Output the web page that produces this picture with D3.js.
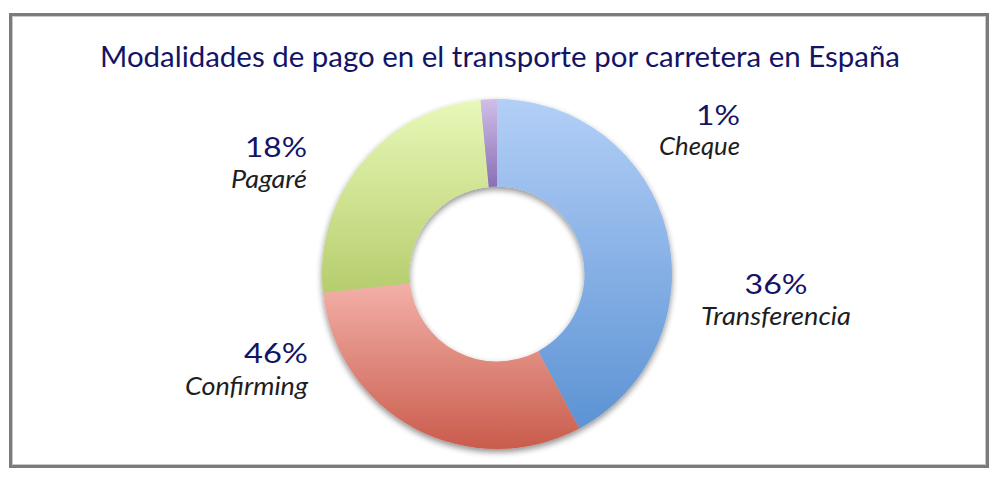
<!DOCTYPE html>
<html>
<head>
<meta charset="utf-8">
<script src="https://cdn.jsdelivr.net/npm/d3@7"></script>
<style>
  html, body { margin: 0; padding: 0; background: #fff; }
  svg { display: block; }
</style>
</head>
<body>
<svg id="chart" width="1000" height="481"></svg>
<script>
// ---- data ----
const title = "Modalidades de pago en el transporte por carretera en España";
const categories = ["Transferencia", "Confirming", "Pagaré", "Cheque"];
const sliceValues = [42.2, 31.1, 25.2, 1.5];          // drawn slice sizes
const percentLabels = ["36%", "46%", "18%", "1%"];      // printed labels

// ---- styles / layout ----
const gradTop = ["#b3cff7", "#f3b0a8", "#e8f8b8", "#cfbfe8"];
const gradBot = ["#5c93d4", "#c95c4c", "#b6cd6d", "#8a6fb5"];
const labelLayout = {
  "Transferencia": { x: 776, anchor: "middle", y1: 294, y2: 325, w1: 63, w2: 150 },
  "Confirming":    { x: 308, anchor: "end",    y1: 363, y2: 395, w1: 64, w2: 123 },
  "Pagaré":        { x: 307, anchor: "end",    y1: 157, y2: 188, w1: 62, w2: 76 },
  "Cheque":        { x: 740, anchor: "end",    y1: 125, y2: 155, w1: 44, w2: 81 }
};
const cx = 497, cy = 274, rOuter = 175, rInner = 87.5;

const svg = d3.select("#chart");
const defs = svg.append("defs");

// frame
svg.append("rect")
  .attr("x", 10.5).attr("y", 14.5).attr("width", 977).attr("height", 452)
  .attr("fill", "#fff").attr("stroke", "#7b7b7b").attr("stroke-width", 3);
svg.append("rect")
  .attr("x", 12.5).attr("y", 16.5).attr("width", 973).attr("height", 448)
  .attr("fill", "none").attr("stroke", "#c8c8c8").attr("stroke-width", 1);

// title
svg.append("text")
  .attr("x", 500).attr("y", 67)
  .attr("text-anchor", "middle")
  .attr("font-family", "Lato, 'Open Sans', sans-serif")
  .attr("font-size", 28)
  .attr("fill", "#141466")
  .attr("textLength", 800)
  .attr("lengthAdjust", "spacingAndGlyphs")
  .text(title);

// shadow filter
const f = defs.append("filter").attr("id", "shadow")
  .attr("x", "-20%").attr("y", "-20%").attr("width", "140%").attr("height", "140%");
f.append("feGaussianBlur").attr("in", "SourceAlpha").attr("stdDeviation", 3).attr("result", "b");
f.append("feOffset").attr("in", "b").attr("dx", 0).attr("dy", 3).attr("result", "o");
f.append("feComponentTransfer").attr("in", "o").attr("result", "oa")
  .append("feFuncA").attr("type", "linear").attr("slope", 0.45);
const fm = f.append("feMerge");
fm.append("feMergeNode").attr("in", "oa");
fm.append("feMergeNode").attr("in", "SourceGraphic");

// gradients
categories.forEach((c, i) => {
  const g = defs.append("linearGradient").attr("id", "grad" + i)
    .attr("x1", 0).attr("y1", 0).attr("x2", 0).attr("y2", 1);
  g.append("stop").attr("offset", "0%").attr("stop-color", gradTop[i]);
  g.append("stop").attr("offset", "100%").attr("stop-color", gradBot[i]);
});

const pie = d3.pie().sort(null).value(d => d.v);
const arcs = pie(categories.map((c, i) => ({ c, v: sliceValues[i], i })));
const arc = d3.arc().innerRadius(rInner).outerRadius(rOuter);

const gPie = svg.append("g").attr("transform", `translate(${cx},${cy})`).attr("filter", "url(#shadow)");
gPie.selectAll("path").data(arcs).join("path")
  .attr("d", arc)
  .attr("fill", d => `url(#grad${d.data.i})`);

// labels
const font = "Lato, 'Open Sans', sans-serif";
categories.forEach((c, i) => {
  const L = labelLayout[c];
  svg.append("text")
    .attr("x", L.x).attr("y", L.y1).attr("text-anchor", L.anchor)
    .attr("font-family", font).attr("font-size", 26).attr("fill", "#141466")
    .attr("textLength", L.w1).attr("lengthAdjust", "spacingAndGlyphs")
    .text(percentLabels[i]);
  svg.append("text")
    .attr("x", L.x).attr("y", L.y2).attr("text-anchor", L.anchor)
    .attr("font-family", font).attr("font-size", 25).attr("font-style", "italic").attr("fill", "#1e1e1e")
    .attr("textLength", L.w2).attr("lengthAdjust", "spacingAndGlyphs")
    .text(c);
});
</script>
</body>
</html>
